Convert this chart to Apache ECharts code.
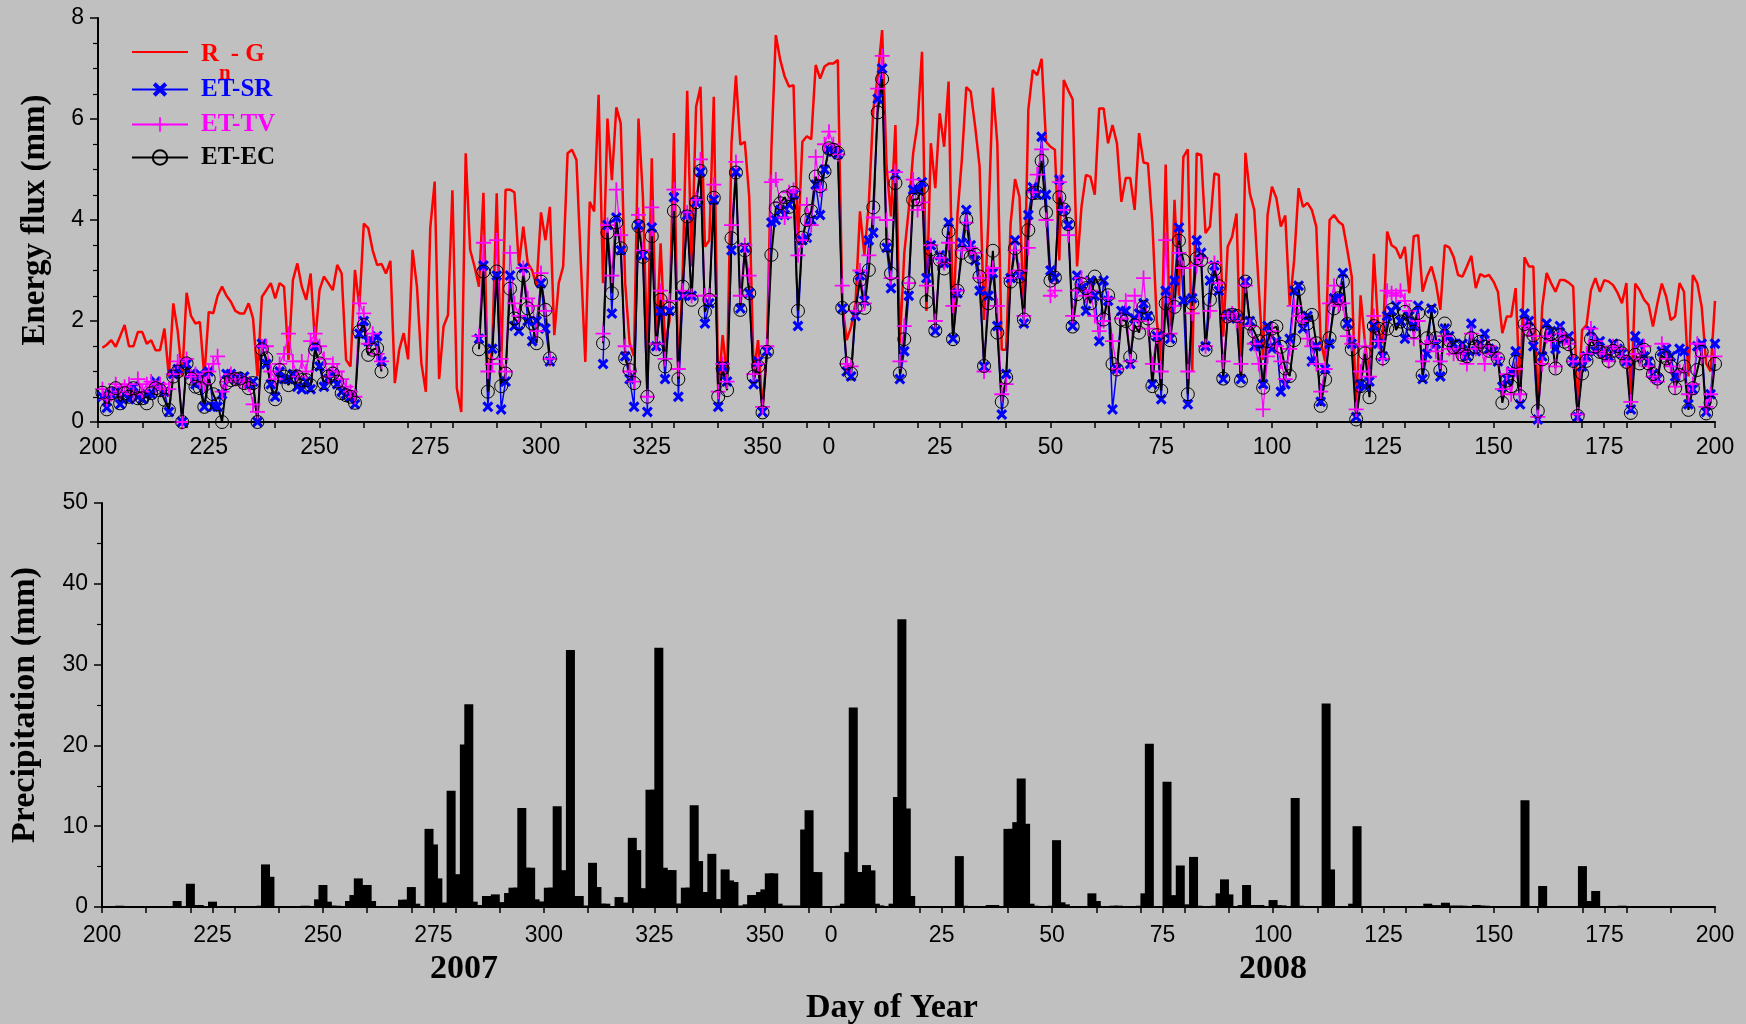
<!DOCTYPE html>
<html>
<head>
<meta charset="utf-8">
<title>Energy flux and precipitation</title>
<script src="https://cdn.jsdelivr.net/npm/echarts@6/dist/echarts.min.js"></script>
<style>
  html, body { margin: 0; padding: 0; background: #c0c0c0; }
  #chart { width: 1746px; height: 1024px; }
</style>
</head>
<body>
<div id="chart"></div>
<script>
// x = day index counted from day 200 of 2007 (index 165 is day 0 of 2008)
const tickIdx = [0, 25, 50, 75, 100, 125, 150, 165, 190, 215, 240, 265, 290, 315, 340, 365];
const tickText = ['200', '225', '250', '275', '300', '325', '350', '0', '25', '50', '75', '100', '125', '150', '175', '200'];
// small ticks every 10 days
const tenDayIdx = [0, 10, 20, 30, 40, 50, 60, 70, 80, 90, 100, 110, 120, 130, 140, 150, 160,
  175, 185, 195, 205, 215, 225, 235, 245, 255, 265, 275, 285, 295, 305, 315, 325, 335, 345, 355, 365];

// Rn - G (mm)
const rnG = [
  null,1.47,1.53,1.62,1.49,1.70,1.92,1.50,1.50,1.78,
  1.78,1.55,1.62,1.42,1.42,1.85,0.90,2.35,1.80,0.90,
  2.56,2.10,1.95,1.98,0.90,2.18,2.15,2.50,2.68,2.50,
  2.38,2.20,2.15,2.15,2.35,2.05,0.90,2.48,2.61,2.75,
  2.45,2.75,2.68,1.23,2.81,3.14,2.68,2.42,2.94,1.56,
  2.61,2.88,2.75,2.61,3.11,2.94,1.23,1.10,3.01,2.28,
  3.93,3.84,3.40,3.11,3.13,2.94,3.19,0.77,1.43,1.76,
  1.24,3.41,2.68,1.16,0.60,3.84,4.76,0.85,1.89,2.12,
  4.59,0.67,0.20,5.32,3.41,3.08,2.68,4.54,0.77,1.49,
  4.53,1.03,4.60,4.60,4.55,3.10,3.87,3.15,3.00,2.70,
  4.15,3.60,4.26,1.72,2.75,3.08,5.32,5.39,5.19,3.14,
  1.19,4.36,4.17,6.48,2.75,6.01,4.79,6.23,5.91,2.75,
  1.56,1.30,6.01,4.46,1.30,5.22,1.56,3.54,1.56,2.00,
  5.72,0.77,3.01,6.56,3.08,6.24,6.64,3.47,3.60,6.44,
  0.57,1.72,0.90,5.52,6.86,5.49,5.55,4.46,0.96,1.62,
  0.24,1.43,5.39,7.66,7.17,6.84,6.64,6.67,3.54,5.55,
  5.66,5.60,7.07,6.80,7.04,7.10,7.10,7.17,2.35,1.62,
  1.89,2.35,4.17,3.31,4.33,6.18,6.84,7.76,5.06,4.07,
  5.88,1.56,3.34,4.20,5.32,5.91,7.33,2.20,5.52,4.63,
  6.11,5.45,6.74,1.90,4.10,5.20,6.63,6.54,5.85,5.06,
  2.02,4.00,6.62,5.52,1.43,1.43,3.93,4.81,4.46,2.15,
  6.18,6.97,6.87,7.19,5.55,5.45,5.39,3.20,6.77,6.57,
  6.39,3.08,4.26,4.89,4.86,4.50,6.21,6.21,5.52,5.88,
  5.52,4.36,4.83,4.83,4.20,5.72,5.14,5.12,3.93,2.00,
  1.20,5.10,1.60,4.40,2.50,5.25,5.40,1.00,5.32,5.29,
  3.74,3.87,4.92,4.89,1.69,3.47,3.67,4.13,0.83,5.33,
  4.53,4.20,2.68,1.23,4.10,4.66,4.43,3.87,4.09,2.32,
  3.20,4.63,4.26,4.34,4.20,3.87,1.60,1.20,4.00,4.10,
  3.97,3.90,3.41,2.88,0.17,2.51,1.56,0.90,3.33,1.82,
  1.56,3.77,3.50,3.44,3.24,3.47,2.55,3.68,3.70,2.58,
  2.88,3.08,2.75,2.22,3.50,3.46,3.27,2.91,2.88,3.08,
  3.29,2.65,2.93,2.88,2.91,2.78,2.58,1.76,2.09,2.09,
  2.65,0.57,3.26,3.08,3.08,0.24,2.28,2.95,2.75,2.58,
  2.81,2.81,2.76,2.68,0.24,1.82,1.92,2.61,2.85,2.58,
  2.81,2.78,2.71,2.56,2.35,2.75,0.37,2.74,2.61,2.42,
  2.32,1.89,2.35,2.74,2.48,2.02,2.09,2.75,2.58,0.90,
  2.91,2.75,2.28,1.16,1.00,2.40
];

// ET from the eddy covariance system (mm)
const etEC = [
  null,0.58,0.25,0.57,0.67,0.37,0.57,0.50,0.67,0.47,
  0.47,0.37,0.57,0.67,0.63,0.44,0.24,0.90,1.00,0.00,
  1.16,0.86,0.70,0.67,0.30,0.86,0.55,0.35,0.00,0.77,
  0.83,0.85,0.86,0.77,0.67,0.77,0.00,1.44,1.26,0.70,
  0.45,1.03,0.90,0.73,0.90,0.90,0.83,0.83,0.73,1.43,
  1.16,0.77,0.90,0.96,0.80,0.57,0.53,0.50,0.38,1.79,
  1.92,1.33,1.43,1.46,1.00,null,null,null,null,null,
  null,null,null,null,null,null,null,null,null,null,
  null,null,null,null,null,null,1.44,2.98,0.60,1.36,
  2.98,0.71,0.96,2.64,2.05,1.95,2.90,2.25,1.95,1.56,
  2.78,2.22,1.26,null,null,null,null,null,null,null,
  null,null,null,null,1.56,3.75,2.55,3.95,3.44,1.26,
  1.03,0.77,3.88,3.27,0.50,3.68,1.44,2.42,1.10,2.25,
  4.18,0.85,2.68,4.07,2.42,4.35,4.97,2.18,2.42,4.44,
  0.50,1.06,0.63,3.64,4.94,2.22,3.40,2.55,0.90,1.10,
  0.19,1.39,3.31,4.23,4.33,4.45,4.26,4.54,2.20,3.65,
  4.00,4.18,4.86,4.67,4.96,5.42,5.39,5.33,2.26,1.16,
  0.96,2.26,2.81,2.26,3.01,4.25,6.13,6.79,3.50,2.94,
  4.73,0.96,1.64,2.75,4.40,4.41,4.64,2.38,3.42,1.81,
  3.21,3.04,3.77,1.64,2.60,3.35,4.01,3.27,3.31,2.88,
  1.11,2.35,3.39,1.77,0.40,0.88,2.78,3.44,2.88,2.03,
  3.80,4.53,4.54,5.17,4.15,2.80,2.86,4.45,4.21,3.92,
  1.89,2.53,2.73,2.65,2.35,2.88,2.69,2.03,2.51,1.15,
  1.04,2.03,2.00,1.29,1.92,1.77,2.28,2.05,0.71,1.72,
  0.62,2.35,1.62,2.28,3.59,3.20,0.55,2.35,3.24,3.20,
  1.43,2.42,3.02,2.69,0.86,2.09,2.12,2.10,0.82,2.78,
  1.95,1.79,1.60,0.68,1.60,1.85,1.89,1.49,1.06,0.91,
  1.62,2.63,2.05,1.95,2.12,1.56,0.32,0.84,1.66,2.25,
  2.45,2.78,1.94,1.44,0.05,0.71,1.36,0.49,1.90,1.85,
  1.26,1.85,2.22,1.82,1.99,2.18,1.95,1.79,2.16,0.93,
  1.66,2.18,1.66,1.02,1.95,1.62,1.48,1.49,1.33,1.30,
  1.66,1.49,1.59,1.49,1.41,1.50,1.26,0.38,0.82,0.71,
  1.19,0.51,1.94,1.83,1.72,0.22,1.24,1.77,1.74,1.06,
  1.72,1.59,1.54,1.21,0.12,0.96,1.21,1.64,1.49,1.39,
  1.36,1.21,1.41,1.50,1.36,1.19,0.18,1.33,1.16,1.43,
  1.16,0.95,0.86,1.31,1.26,1.10,0.67,0.93,1.10,0.24,
  0.67,1.03,1.39,0.17,0.38,1.15
];

// ET from the SR method (mm)
const etSR = [
  null,0.50,0.28,0.55,0.60,0.35,0.55,0.45,0.70,0.50,
  0.45,0.55,0.55,0.80,0.70,0.60,0.20,0.95,1.05,0.00,
  1.15,0.95,0.75,0.95,0.30,1.00,0.30,0.30,0.55,0.95,
  0.95,0.85,0.85,0.90,0.75,0.80,0.00,1.55,1.15,0.75,
  0.50,1.00,0.85,0.85,0.95,0.70,0.65,0.80,0.65,1.50,
  1.10,0.70,0.85,0.95,0.75,0.60,0.55,0.50,0.35,1.75,
  2.00,1.60,1.60,1.70,1.20,null,null,null,null,null,
  null,null,null,null,null,null,null,null,null,null,
  null,null,null,null,null,null,1.65,3.10,0.30,1.45,
  2.90,0.25,0.80,2.90,1.90,1.80,3.05,2.00,1.60,2.00,
  2.75,1.85,1.20,null,null,null,null,null,null,null,
  null,null,null,null,1.15,3.90,2.15,4.05,3.40,1.30,
  0.85,0.30,3.90,3.30,0.20,3.85,1.50,2.20,0.85,2.20,
  4.45,0.50,2.50,4.10,2.50,4.35,4.95,1.95,2.35,4.40,
  0.30,1.10,0.80,3.40,4.95,2.25,3.45,2.55,0.75,1.20,
  0.20,1.40,3.95,4.00,4.20,4.10,4.30,4.50,1.90,3.60,
  3.65,4.00,4.70,4.10,5.00,5.40,5.35,5.30,2.25,1.00,
  0.90,2.10,2.90,2.40,3.60,3.75,6.40,7.00,3.45,2.65,
  4.90,0.85,1.40,2.50,4.60,4.60,4.75,2.85,3.50,1.80,
  3.30,3.15,3.95,1.65,2.55,3.55,4.20,3.50,3.20,2.60,
  1.10,2.50,2.95,1.90,0.15,0.95,2.85,3.60,2.90,1.95,
  4.10,4.65,4.50,5.65,4.50,3.00,2.85,4.80,4.20,3.90,
  1.90,2.90,2.65,2.20,2.80,2.50,1.60,2.80,2.40,0.25,
  1.05,2.20,2.20,1.15,2.05,2.15,2.35,2.10,0.75,1.70,
  0.45,2.60,1.65,2.80,3.85,2.40,0.35,2.45,3.60,3.35,
  1.50,2.80,3.10,2.60,0.85,2.12,2.15,2.05,0.85,2.78,
  2.00,1.50,1.55,0.75,1.90,1.45,1.60,0.60,0.75,1.65,
  2.60,2.70,1.85,2.10,1.20,1.50,0.40,1.05,1.55,2.45,
  2.45,2.95,1.95,1.55,0.10,0.75,0.70,0.80,1.90,1.55,
  1.30,2.10,2.20,2.30,2.00,1.65,2.10,1.90,2.30,0.85,
  1.35,2.25,1.55,0.90,1.85,1.70,1.55,1.45,1.55,1.30,
  1.95,1.40,1.55,1.75,1.45,1.40,1.20,0.70,0.85,1.00,
  1.40,0.35,2.15,2.00,1.50,0.05,1.30,1.95,1.80,1.45,
  1.90,1.65,1.70,1.20,0.10,1.10,1.30,1.80,1.40,1.60,
  1.35,1.30,1.55,1.45,1.35,1.20,0.25,1.70,1.55,1.30,
  1.20,0.95,0.85,1.40,1.45,1.30,0.90,1.45,1.40,0.35,
  0.65,1.50,1.55,0.20,0.55,1.55
];

// ET from the TV method (mm)
const etTV = [
  null,0.65,0.45,0.55,0.75,0.60,0.70,0.75,0.55,0.85,
  0.60,0.75,0.80,0.70,0.75,0.65,0.65,0.95,1.20,0.00,
  1.25,0.90,0.95,0.80,0.75,1.00,1.15,1.30,0.60,0.80,
  0.95,0.85,0.80,0.80,0.75,0.35,0.20,1.50,1.50,1.00,
  0.85,1.15,1.35,1.75,1.20,0.90,1.20,1.00,1.60,1.75,
  1.50,1.25,0.90,1.15,1.00,0.85,0.70,0.60,0.50,2.35,
  2.15,1.55,1.75,1.35,1.20,null,null,null,null,null,
  null,null,null,null,null,null,null,null,null,null,
  null,null,null,null,null,null,1.70,3.55,1.00,1.15,
  3.60,1.25,1.00,3.35,2.35,2.10,3.05,2.45,2.30,1.80,
  2.95,2.20,1.25,null,null,null,null,null,null,null,
  null,null,null,null,1.75,3.90,2.90,4.60,3.70,1.50,
  1.00,0.80,4.10,3.40,0.50,4.25,1.55,2.60,1.25,2.40,
  4.60,1.05,2.60,4.15,2.50,4.40,5.20,2.50,2.50,4.70,
  0.60,1.15,0.80,3.90,5.15,2.50,3.50,2.90,0.95,1.15,
  0.30,1.50,4.75,4.80,4.35,4.05,4.55,4.60,3.30,3.60,
  4.30,3.90,5.25,4.60,5.50,5.75,5.50,5.30,2.70,1.15,
  1.10,2.20,3.00,2.35,3.30,4.05,6.60,7.25,4.00,2.85,
  4.95,1.20,1.90,2.75,4.80,4.20,4.35,2.70,3.50,2.00,
  3.25,3.15,3.55,2.30,2.60,3.40,3.95,3.45,3.35,2.85,
  1.00,2.95,3.05,2.30,0.55,0.75,2.85,3.40,3.00,2.10,
  3.45,4.55,4.90,5.40,4.00,2.50,2.60,4.75,4.20,3.70,
  2.10,2.60,2.85,2.50,2.60,2.10,1.80,2.00,2.45,1.60,
  1.05,2.05,2.40,1.20,2.50,2.00,2.85,1.85,1.15,1.70,
  1.00,3.60,1.75,2.30,3.35,3.05,1.00,2.15,3.10,3.25,
  1.50,2.20,3.15,2.75,1.20,2.10,2.15,2.00,1.15,2.70,
  1.90,1.55,1.15,0.25,1.30,1.80,1.50,1.20,0.85,1.45,
  2.30,2.10,2.00,1.65,1.50,1.15,0.60,1.05,2.35,2.70,
  2.30,2.35,1.70,1.55,0.25,1.00,1.50,0.90,2.10,1.60,
  1.25,2.60,2.55,2.50,2.60,2.40,2.20,1.65,2.00,1.20,
  1.55,1.60,1.40,1.20,1.70,1.45,1.35,1.35,1.40,1.15,
  1.75,1.45,1.50,1.15,1.50,1.35,1.25,0.65,0.95,0.55,
  1.05,0.55,1.90,1.85,1.70,0.10,1.15,1.70,1.60,1.10,
  1.75,1.65,1.55,1.20,0.15,1.20,1.35,1.85,1.60,1.40,
  1.35,1.20,1.50,1.45,1.30,1.20,0.40,1.35,1.25,1.50,
  1.10,0.90,0.80,1.55,1.25,1.10,0.70,1.00,1.00,0.55,
  0.75,1.55,1.30,0.30,0.55,1.30
];

// daily precipitation: day index and amount (mm); other days are 0
const precipIdx = [4, 17, 20, 21, 22, 25, 36, 37, 38, 46, 49, 50, 51, 52, 53, 56, 57, 58, 59, 60, 61,
  68, 69, 70, 71, 74, 75, 76, 77, 78, 79, 80, 81, 82, 83, 84, 85, 86, 87, 88, 89, 90, 91, 92, 93, 94,
  95, 96, 97, 98, 99, 100, 101, 102, 103, 104, 105, 106, 107, 108, 109, 110, 111, 112, 113, 114,
  117, 118, 119, 120, 121, 122, 123, 124, 125, 126, 127, 128, 129, 130, 131, 132, 133, 134, 135,
  136, 137, 138, 139, 140, 141, 142, 143, 144, 145, 146, 147, 148, 149, 150, 151, 152, 153, 154,
  155, 156, 157, 158, 159, 160, 161, 162, 167, 168, 169, 170, 171, 172, 173, 174, 175, 176, 177,
  178, 179, 180, 181, 182, 183, 194, 195, 201, 202, 205, 206, 207, 208, 209, 210, 211, 215, 216,
  217, 218, 224, 225, 229, 230, 235, 236, 237, 241, 242, 243, 244, 245, 246, 247, 248, 252, 253,
  254, 255, 256, 257, 258, 259, 260, 261, 262, 265, 266, 267, 270, 271, 277, 278, 283, 284, 300,
  301, 302, 303, 304, 305, 306, 307, 308, 311, 312, 313, 322, 326, 335, 336, 337, 338, 344];
const precipMm = [0.16, 0.74, 2.88, 0.25, 0.25, 0.66, 0.16, 5.27, 3.74, 0.16, 0.95, 2.72, 0.66, 0.16, 0.16, 0.74, 1.48, 3.54, 2.72, 2.72, 0.74,
  0.9, 0.9, 2.47, 0.41, 9.67, 7.74, 3.54, 0.53, 0.53, 14.4, 4.03, 4.03, 20.1, 25.1, 0.66, 0.25, 0.25, 1.36, 1.36, 1.56, 0.58, 0.58, 1.73, 2.39, 2.39,
  12.26, 4.86, 4.86, 0.95, 0.66, 0.66, 2.39, 2.39, 12.47, 4.53, 4.53, 31.8, 1.36, 1.36, 0.16, 0.16, 5.47, 2.47, 0.41, 0.41,
  1.23, 0.53, 0.53, 8.56, 7.04, 2.3, 2.3, 14.5, 14.5, 32.1, 4.86, 4.57, 4.57, 0.41, 0.41, 2.39, 2.39, 12.6, 5.68,
  1.85, 1.85, 6.58, 0.95, 0.95, 4.65, 3.29, 3.09, 0.16, 0.16, 0.33, 1.48, 1.48, 1.85, 2.18, 4.16, 4.16, 0.41, 0.16,
  0.16, 0.16, 0.16, 0.16, 9.59, 11.98, 4.32, 4.32, 0.16, 0.41, 6.79, 24.7, 4.32, 4.32, 5.19, 4.53, 0.41, 0.2, 0.08,
  0.08, 0.41, 13.6, 35.6, 12.2, 1.36, 6.3, 0.16, 0.25, 0.25, 9.67, 9.67, 10.5, 15.9, 10.3, 0.41, 0.16, 0.16, 8.27,
  0.58, 0.33, 1.69, 0.74, 0.16, 0.16, 0.16, 1.69, 20.2, 15.5, 1.44, 1.44, 5.14, 0.3, 0.3, 6.2, 0.16, 0.16, 1.69,
  3.42, 1.56, 0.12, 0.12, 0.25, 2.72, 0.25, 0.25, 0.25, 0.86, 0.2, 0.2, 13.5, 0.16, 25.2, 4.65, 0.41, 10.0, 0.41,
  0.2, 0.2, 0.2, 0.53, 0.16, 0.16, 0.16, 0.16, 0.25, 0.16, 0.16, 13.2, 2.6, 5.06, 0.74, 0.74, 1.98, 0.16];

const days = rnG.map((v, i) => String(i));
const precip = days.map(() => 0);
precipIdx.forEach((d, k) => { precip[d] = precipMm[k]; });

const serif = '"Liberation Serif", "Times New Roman", serif';
const sans = '"Liberation Sans", Arial, sans-serif';
const xMark = 'path://M0,2L2,0L5,3L8,0L10,2L7,5L10,8L8,10L5,7L2,10L0,8L3,5Z';
const plusMark = 'path://M4.4,0H5.6V4.4H10V5.6H5.6V10H4.4V5.6H0V4.4H4.4Z';

const chart = echarts.init(document.getElementById('chart'));

function dayAxis(gridIndex) {
  return {
    type: 'category',
    gridIndex: gridIndex,
    data: days,
    boundaryGap: false,
    axisLine: { lineStyle: { color: '#000', width: 2 } },
    axisTick: {
      show: true, length: 6, lineStyle: { color: '#000', width: 1.5 },
      interval: (i) => tenDayIdx.includes(i) || tickIdx.includes(i)
    },
    axisLabel: {
      interval: (i) => tickIdx.includes(i),
      formatter: (v, i) => tickText[tickIdx.indexOf(i)],
      color: '#000', fontSize: 23, fontFamily: sans, margin: gridIndex ? 17 : 14
    },
    splitLine: { show: false }
  };
}

function valueAxis(gridIndex, max, step, minorSplit, name, gap, nameSize) {
  return {
    type: 'value',
    gridIndex: gridIndex,
    min: 0, max: max, interval: step,
    name: name, nameLocation: 'middle', nameGap: gap,
    nameTextStyle: { fontFamily: serif, fontWeight: 'bold', fontSize: nameSize, color: '#000' },
    axisLine: { show: true, lineStyle: { color: '#000', width: 2 } },
    axisTick: { show: true, length: 8, lineStyle: { color: '#000', width: 1.5 } },
    minorTick: { show: true, splitNumber: minorSplit, length: 5, lineStyle: { color: '#000', width: 1.2 } },
    axisLabel: { color: '#000', fontSize: 23, fontFamily: sans, margin: 14 },
    splitLine: { show: false }
  };
}

function legendRow(name, top, color) {
  return {
    data: [name], left: 131, top: top, orient: 'vertical', padding: 0,
    itemWidth: 56, itemHeight: 18, itemGap: 0, selectedMode: false,
    itemStyle: name === 'Rn - G' ? { opacity: 0 } : {},
    formatter: (n) => n === 'Rn - G' ? '{r|R}{s|n}{r|- G}' : n,
    textStyle: {
      color: color, fontFamily: serif, fontWeight: 'bold', fontSize: 25, padding: [0, 0, 0, 8],
      rich: {
        r: { color: color, fontFamily: serif, fontWeight: 'bold', fontSize: 25, lineHeight: 28, verticalAlign: 'top', padding: [4, 0, 0, 0] },
        s: { color: color, fontFamily: serif, fontWeight: 'bold', fontSize: 21, lineHeight: 22, verticalAlign: 'top', padding: [25, 0, 13, 0] }
      }
    }
  };
}

chart.setOption({
  backgroundColor: '#c0c0c0',
  animation: false,
  grid: [
    { left: 98, right: 31, top: 18, height: 404 },
    { left: 98, right: 31, top: 503, height: 404 }
  ],
  legend: [
    legendRow('Rn - G', 38, '#ff0000'),
    legendRow('ET-SR', 77, '#0000ff'),
    legendRow('ET-TV', 112, '#ff00ff'),
    legendRow('ET-EC', 145, '#000000')
  ],
  xAxis: [dayAxis(0), dayAxis(1)],
  yAxis: [
    valueAxis(0, 8, 2, 4, 'Energy flux (mm)', 46, 33),
    valueAxis(1, 50, 10, 2, 'Precipitation (mm)', 60, 34)
  ],
  graphic: [
    { type: 'text', left: 430, top: 952, style: { text: '2007', font: 'bold 34px ' + serif, fill: '#000' } },
    { type: 'text', left: 1239, top: 952, style: { text: '2008', font: 'bold 34px ' + serif, fill: '#000' } },
    { type: 'text', left: 806, top: 991, style: { text: 'Day of Year', font: 'bold 34px ' + serif, fill: '#000' } }
  ],
  series: [
    {
      name: 'Rn - G', type: 'line', xAxisIndex: 0, yAxisIndex: 0, data: rnG,
      showSymbol: false, symbol: 'none', connectNulls: false,
      lineStyle: { color: '#ff0000', width: 2.5 }, itemStyle: { color: '#ff0000' }
    },
    {
      name: 'ET-SR', type: 'line', xAxisIndex: 0, yAxisIndex: 0, data: etSR,
      symbol: xMark, symbolSize: 11, showAllSymbol: true, connectNulls: false,
      lineStyle: { color: '#0000ff', width: 1.5 }, itemStyle: { color: '#0000ff' }
    },
    {
      name: 'ET-TV', type: 'line', xAxisIndex: 0, yAxisIndex: 0, data: etTV,
      symbol: plusMark, symbolSize: 15, showAllSymbol: true, connectNulls: false,
      lineStyle: { color: '#ff00ff', width: 1.2 }, itemStyle: { color: '#ff00ff' }
    },
    {
      name: 'ET-EC', type: 'line', xAxisIndex: 0, yAxisIndex: 0, data: etEC,
      symbol: 'circle', symbolSize: 13, showAllSymbol: true, connectNulls: false,
      lineStyle: { color: '#000', width: 2 },
      itemStyle: { color: 'rgba(0,0,0,0)', borderColor: '#000', borderWidth: 1 }
    },
    {
      name: 'Precipitation', type: 'bar', xAxisIndex: 1, yAxisIndex: 1, data: precip,
      barWidth: 9, itemStyle: { color: '#000' }
    }
  ]
});
</script>
</body>
</html>
